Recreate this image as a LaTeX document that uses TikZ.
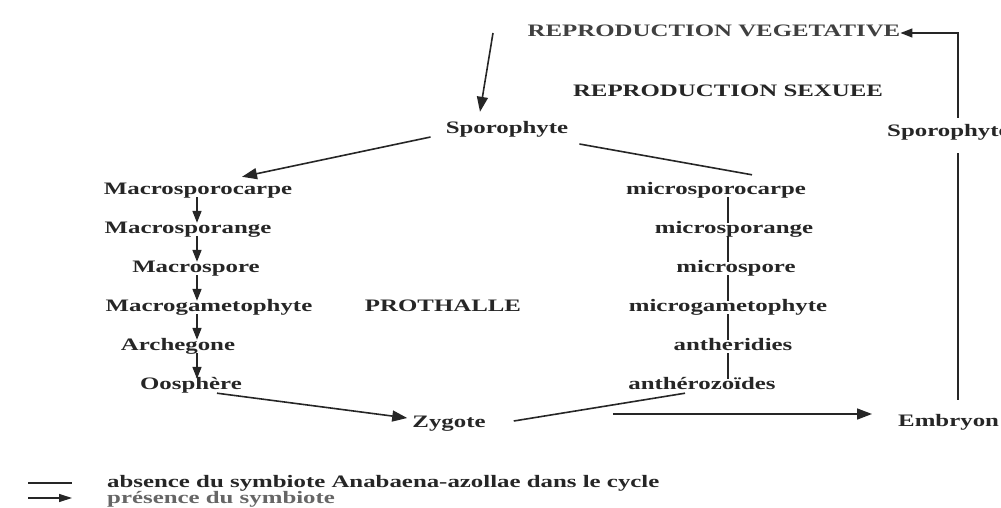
\documentclass[tikz,border=0pt]{standalone}
\usepackage{fontspec}
\setmainfont{Liberation Serif}[FakeStretch=1.42]
\usepackage{xcolor}
\usetikzlibrary{calc,arrows.meta}

\tikzset{
  lbl/.style={font=\fontsize{17.5}{20}\selectfont\bfseries, text=black!85, inner sep=0pt, text height=12pt, text depth=4pt},
  ln/.style={line width=1.6pt, black!85},
  arr/.style={ln, -{Triangle[length=15pt,width=11pt]}},
  sarr/.style={ln, -{Triangle[length=12pt,width=9pt]}},
}

\begin{document}
\begin{tikzpicture}[x=1pt,y=-1pt]
  \useasboundingbox (0,0) rectangle (1001,508);

  % Titles
  \node[lbl, text=black!75] (veg) at (714,33) {REPRODUCTION VEGETATIVE};
  \node[lbl] (sexuee) at (728,93) {REPRODUCTION SEXUEE};
  \node[lbl] (prothalle) at (443,307) {PROTHALLE};

  % Sporophytes
  \node[lbl] (sporo) at (507,130) {Sporophyte};
  \node[lbl, anchor=west] (sporoR) at (887,133) {Sporophyte};

  % Female side
  \node[lbl] (macrocarpe) at (198,190) {Macrosporocarpe};
  \node[lbl] (macrange) at (188,229) {Macrosporange};
  \node[lbl] (macrospore) at (196,268) {Macrospore};
  \node[lbl] (macrogam) at (209,307) {Macrogametophyte};
  \node[lbl] (archegone) at (178,346) {Archegone};
  \node[lbl] (oosphere) at (191,385) {Oosphère};

  % Male side
  \node[lbl] (microcarpe) at (716,190) {microsporocarpe};
  \node[lbl] (micrange) at (734,229) {microsporange};
  \node[lbl] (microspore) at (736,268) {microspore};
  \node[lbl] (microgam) at (728,307) {microgametophyte};
  \node[lbl] (antheridies) at (733,346) {antheridies};
  \node[lbl] (antherozo) at (702,385) {anthérozoïdes};

  % Zygote and embryon
  \node[lbl] (zygote) at (449,423) {Zygote};
  \node[lbl, anchor=west] (embryon) at (898,422) {Embryon};

  % Column guides
  \coordinate (lcol) at (197,0);
  \coordinate (rcol) at (728,0);
  \coordinate (topc) at (958,33);
  \coordinate (vstart) at (493,33);

  % Arrows from the top
  \draw[arr] (vstart) -- ([xshift=-27pt,yshift=10pt]sporo.north);
  \draw[arr] ([xshift=-15pt,yshift=-7pt]sporo.west) -- ([xshift=44pt,yshift=5pt]macrocarpe.north);
  \draw[ln] ([xshift=11pt,yshift=-14pt]sporo.east) -- ([xshift=36pt,yshift=7pt]microcarpe.north);

  % Female column
  \foreach \a/\b in {macrocarpe/macrange, macrange/macrospore, macrospore/macrogam, macrogam/archegone, archegone/oosphere}
    \draw[sarr, shorten <=-1pt, shorten >=-2pt] (\a.south -| lcol) -- (\b.north -| lcol);

  % Male column
  \foreach \a/\b in {microcarpe/micrange, micrange/microspore, microspore/microgam, microgam/antheridies, antheridies/antherozo}
    \draw[ln, shorten <=-1pt, shorten >=-2pt] (\a.south -| rcol) -- (\b.north -| rcol);

  % Fertilisation
  \draw[arr] ([xshift=26pt]oosphere.south) -- ([xshift=-5pt,yshift=5pt]zygote.west);
  \draw[ln] ([xshift=-17pt]antherozo.south) -- ([xshift=28pt,yshift=2pt]zygote.east);
  \draw[arr, shorten <=127pt, shorten >=26pt] ([yshift=9pt]zygote.east) coordinate (zs) -- (zs -| embryon.west);

  % Vegetative loop
  \draw[ln, shorten <=14pt, shorten >=12pt] (embryon.north -| topc) -- (sporoR.south -| topc);
  \draw[sarr, shorten <=7pt] (sporoR.north -| topc) -- (topc) -- (veg.east);

  % Legend
  \coordinate (leg1) at (28,483);
  \coordinate (leg2) at (28,498);
  \draw[ln, line width=1.2pt] (leg1) -- ++(44,0);
  \draw[ln, line width=1.2pt, -{Triangle[length=13pt,width=8pt]}] (leg2) -- ++(44,0);
  \node[lbl, anchor=west] (legtxt1) at (107,483) {absence du symbiote Anabaena-azollae dans le cycle};
  \node[lbl, anchor=west, text=black!60] (legtxt2) at (107,499) {présence du symbiote};
\end{tikzpicture}
\end{document}
